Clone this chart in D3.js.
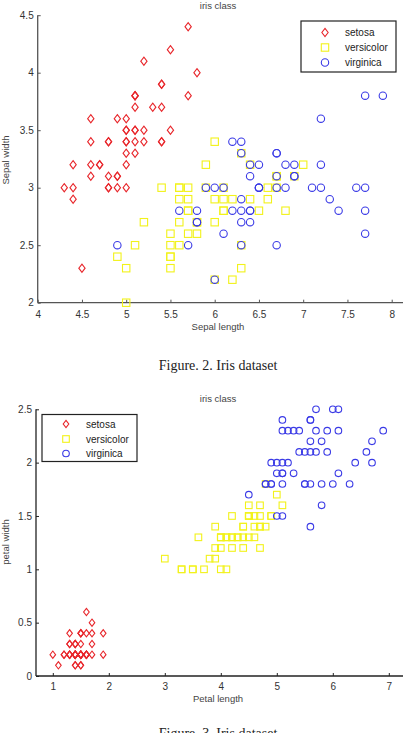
<!DOCTYPE html>
<html><head><meta charset="utf-8">
<script src="https://cdn.jsdelivr.net/npm/d3@7"></script>
<style>
html,body{margin:0;padding:0;background:#fff;}
svg{display:block;}
</style></head>
<body>
<svg id="c" width="403" height="733"></svg>
<script>
// ---- data (Iris dataset) ----
const classes = ["setosa", "versicolor", "virginica"];
const setosaSepalLength = [5.1,4.9,4.7,4.6,5.0,5.4,4.6,5.0,4.4,4.9,5.4,4.8,4.8,4.3,5.8,5.7,5.4,5.1,5.7,5.1,5.4,5.1,4.6,5.1,4.8,5.0,5.0,5.2,5.2,4.7,4.8,5.4,5.2,5.5,4.9,5.0,5.5,4.9,4.4,5.1,5.0,4.5,4.4,5.0,5.1,4.8,5.1,4.6,5.3,5.0];
const setosaSepalWidth  = [3.5,3.0,3.2,3.1,3.6,3.9,3.4,3.4,2.9,3.1,3.7,3.4,3.0,3.0,4.0,4.4,3.9,3.5,3.8,3.8,3.4,3.7,3.6,3.3,3.4,3.0,3.4,3.5,3.4,3.2,3.1,3.4,4.1,4.2,3.1,3.2,3.5,3.6,3.0,3.4,3.5,2.3,3.2,3.5,3.8,3.0,3.8,3.2,3.7,3.3];
const setosaPetalLength = [1.4,1.4,1.3,1.5,1.4,1.7,1.4,1.5,1.4,1.5,1.5,1.6,1.4,1.1,1.2,1.5,1.3,1.4,1.7,1.5,1.7,1.5,1.0,1.7,1.9,1.6,1.6,1.5,1.4,1.6,1.6,1.5,1.5,1.4,1.5,1.2,1.3,1.4,1.3,1.5,1.3,1.3,1.3,1.6,1.9,1.4,1.6,1.4,1.5,1.4];
const setosaPetalWidth  = [0.2,0.2,0.2,0.2,0.2,0.4,0.3,0.2,0.2,0.1,0.2,0.2,0.1,0.1,0.2,0.4,0.4,0.3,0.3,0.3,0.2,0.4,0.2,0.5,0.2,0.2,0.4,0.2,0.2,0.2,0.2,0.4,0.1,0.2,0.2,0.2,0.2,0.1,0.2,0.2,0.3,0.3,0.2,0.6,0.4,0.3,0.2,0.2,0.2,0.2];
const versicolorSepalLength = [7.0,6.4,6.9,5.5,6.5,5.7,6.3,4.9,6.6,5.2,5.0,5.9,6.0,6.1,5.6,6.7,5.6,5.8,6.2,5.6,5.9,6.1,6.3,6.1,6.4,6.6,6.8,6.7,6.0,5.7,5.5,5.5,5.8,6.0,5.4,6.0,6.7,6.3,5.6,5.5,5.5,6.1,5.8,5.0,5.6,5.7,5.7,6.2,5.1,5.7];
const versicolorSepalWidth  = [3.2,3.2,3.1,2.3,2.8,2.8,3.3,2.4,2.9,2.7,2.0,3.0,2.2,2.9,2.9,3.1,3.0,2.7,2.2,2.5,3.2,2.8,2.5,2.8,2.9,3.0,2.8,3.0,2.9,2.6,2.4,2.4,2.7,2.7,3.0,3.4,3.1,2.3,3.0,2.5,2.6,3.0,2.6,2.3,2.7,3.0,2.9,2.9,2.5,2.8];
const versicolorPetalLength = [4.7,4.5,4.9,4.0,4.6,4.5,4.7,3.3,4.6,3.9,3.5,4.2,4.0,4.7,3.6,4.4,4.5,4.1,4.5,3.9,4.8,4.0,4.9,4.7,4.3,4.4,4.8,5.0,4.5,3.5,3.8,3.7,3.9,5.1,4.5,4.5,4.7,4.4,4.1,4.0,4.4,4.6,4.0,3.3,4.2,4.2,4.2,4.3,3.0,4.1];
const versicolorPetalWidth  = [1.4,1.5,1.5,1.3,1.5,1.3,1.6,1.0,1.3,1.4,1.0,1.5,1.0,1.4,1.3,1.4,1.5,1.0,1.5,1.1,1.8,1.3,1.5,1.2,1.3,1.4,1.4,1.7,1.5,1.0,1.1,1.0,1.2,1.6,1.5,1.6,1.5,1.3,1.3,1.3,1.2,1.4,1.2,1.0,1.3,1.2,1.3,1.3,1.1,1.3];
const virginicaSepalLength = [6.3,5.8,7.1,6.3,6.5,7.6,4.9,7.3,6.7,7.2,6.5,6.4,6.8,5.7,5.8,6.4,6.5,7.7,7.7,6.0,6.9,5.6,7.7,6.3,6.7,7.2,6.2,6.1,6.4,7.2,7.4,7.9,6.4,6.3,6.1,7.7,6.3,6.4,6.0,6.9,6.7,6.9,5.8,6.8,6.7,6.7,6.3,6.5,6.2,5.9];
const virginicaSepalWidth  = [3.3,2.7,3.0,2.9,3.0,3.0,2.5,2.9,2.5,3.6,3.2,2.7,3.0,2.5,2.8,3.2,3.0,3.8,2.6,2.2,3.2,2.8,2.8,2.7,3.3,3.2,2.8,3.0,2.8,3.0,2.8,3.8,2.8,2.8,2.6,3.0,3.4,3.1,3.0,3.1,3.1,3.1,2.7,3.2,3.3,3.0,2.5,3.0,3.4,3.0];
const virginicaPetalLength = [6.0,5.1,5.9,5.6,5.8,6.6,4.5,6.3,5.8,6.1,5.1,5.3,5.5,5.0,5.1,5.3,5.5,6.7,6.9,5.0,5.7,4.9,6.7,4.9,5.7,6.0,4.8,4.9,5.6,5.8,6.1,6.4,5.6,5.1,5.6,6.1,5.6,5.5,4.8,5.4,5.6,5.1,5.1,5.9,5.7,5.2,5.0,5.2,5.4,5.1];
const virginicaPetalWidth  = [2.5,1.9,2.1,1.8,2.2,2.1,1.7,1.8,1.8,2.5,2.0,1.9,2.1,2.0,2.4,2.3,1.8,2.2,2.3,1.5,2.3,2.0,2.0,1.8,2.1,1.8,1.8,1.8,2.1,1.6,1.9,2.0,2.2,1.5,1.4,2.3,2.4,1.8,1.8,2.1,2.4,2.3,1.9,2.3,2.5,2.3,1.9,2.0,2.3,1.8];
const sepalXTicks = [4,4.5,5,5.5,6,6.5,7,7.5,8];
const sepalYTicks = [2,2.5,3,3.5,4,4.5];
const petalXTicks = [1,2,3,4,5,6,7];
const petalYTicks = [0,0.5,1,1.5,2,2.5];

const colors = {setosa:"#e8262b", versicolor:"#f2f21a", virginica:"#3a3ae6"};
const svg = d3.select("#c");

function marker(g, cls, x, y, s) {
  if (cls === "setosa") {
    g.append("path").attr("d", `M${x},${y-s*1.1}L${x+s*0.85},${y}L${x},${y+s*1.1}L${x-s*0.85},${y}Z`)
      .attr("fill","none").attr("stroke",colors[cls]).attr("stroke-width",1.1);
  } else if (cls === "versicolor") {
    g.append("rect").attr("x",x-s).attr("y",y-s).attr("width",2*s).attr("height",2*s)
      .attr("fill","none").attr("stroke",colors[cls]).attr("stroke-width",1.1);
  } else {
    g.append("circle").attr("cx",x).attr("cy",y).attr("r",s)
      .attr("fill","none").attr("stroke",colors[cls]).attr("stroke-width",1.1);
  }
}

function panel(cfg) {
  const g = svg.append("g");
  const x = d3.scaleLinear().domain(cfg.xDomain).range(cfg.xRange);
  const y = d3.scaleLinear().domain(cfg.yDomain).range(cfg.yRange);
  const ax = cfg.axisColor;
  g.append("line").attr("x1", cfg.axisX).attr("x2", cfg.axisRight)
    .attr("y1", y(cfg.yDomain[0])).attr("y2", y(cfg.yDomain[0]))
    .attr("stroke", ax).attr("stroke-width", 1.3);
  g.append("line").attr("x1", cfg.axisX).attr("x2", cfg.axisX)
    .attr("y1", y(cfg.yDomain[1])).attr("y2", y(cfg.yDomain[0]))
    .attr("stroke", ax).attr("stroke-width", 1.3);
  const xa = g.append("g").attr("transform", `translate(0,${y(cfg.yDomain[0])})`)
    .call(d3.axisBottom(x).tickValues(cfg.xTicks).tickSize(0).tickPadding(0).tickFormat(d3.format("")));
  xa.select(".domain").remove();
  xa.selectAll(".tick").append("line").attr("y1",0).attr("y2",-3).attr("stroke",ax);
  xa.selectAll(".tick text").attr("y", cfg.xLabelDy).attr("dy", null)
    .attr("font-family","Liberation Sans, Arial, sans-serif").attr("font-size",10).attr("fill","#333");
  const ya = g.append("g").attr("transform", `translate(${cfg.axisX},0)`)
    .call(d3.axisLeft(y).tickValues(cfg.yTicks).tickSize(0).tickPadding(4).tickFormat(d3.format("")));
  ya.select(".domain").remove();
  ya.selectAll(".tick").append("line").attr("x1",0).attr("x2",3).attr("stroke",ax);
  ya.selectAll(".tick text").attr("font-family","Liberation Sans, Arial, sans-serif")
    .attr("font-size",10).attr("fill","#333");
  const pts = g.append("g");
  cfg.series.forEach(s => {
    s.xs.forEach((v, i) => marker(pts, s.cls, x(v), y(s.ys[i]), cfg.markerSize));
  });
  g.append("text").attr("x", 218).attr("y", cfg.titleY).attr("text-anchor","middle")
    .attr("font-family","Liberation Sans, Arial, sans-serif").attr("font-size",9.5).attr("fill","#444")
    .text("iris class");
  g.append("text").attr("x", 218).attr("y", cfg.xTitleY).attr("text-anchor","middle")
    .attr("font-family","Liberation Sans, Arial, sans-serif").attr("font-size",9.5).attr("fill","#444")
    .text(cfg.xTitle);
  g.append("text").attr("transform", `translate(${cfg.yTitleX},${cfg.yTitleCY}) rotate(-90)`)
    .attr("text-anchor","middle")
    .attr("font-family","Liberation Sans, Arial, sans-serif").attr("font-size",9.5).attr("fill","#444")
    .text(cfg.yTitle);
  const L = cfg.legend;
  g.append("rect").attr("x",L.x).attr("y",L.y).attr("width",L.w).attr("height",L.h)
    .attr("fill","#fff").attr("stroke","#222").attr("stroke-width",1.2);
  classes.forEach((c, i) => {
    const cy = L.rowY[i];
    marker(g, c, L.markerX, cy, cfg.markerSize);
    g.append("text").attr("x", L.textX).attr("y", cy).attr("dy","0.35em")
      .attr("font-family","Liberation Sans, Arial, sans-serif").attr("font-size",10).attr("fill","#222")
      .text(c);
  });
  g.append("text").attr("x", cfg.captionX).attr("y", cfg.captionY).attr("text-anchor","middle")
    .attr("font-family","Liberation Serif, Times New Roman, serif").attr("font-size",14).attr("fill","#222")
    .text(cfg.caption);
}

panel({
  xDomain:[4,8], xRange:[37.7,391.7], yDomain:[2,4.5], yRange:[302.7,15.2],
  axisX:37.7, axisRight:403, axisColor:"#555",
  xTicks: sepalXTicks, yTicks: sepalYTicks, xLabelDy: 15,
  markerSize: 3.7,
  series:[
    {cls:"setosa", xs:setosaSepalLength, ys:setosaSepalWidth},
    {cls:"versicolor", xs:versicolorSepalLength, ys:versicolorSepalWidth},
    {cls:"virginica", xs:virginicaSepalLength, ys:virginicaSepalWidth}
  ],
  titleY: 8.5, xTitle:"Sepal length", xTitleY: 330, yTitle:"Sepal width", yTitleX: 9, yTitleCY: 160,
  legend:{x:301, y:21, w:95, h:51, markerX:325, textX:345, rowY:[32.5,47.5,62.5]},
  caption:"Figure. 2. Iris dataset", captionX: 218, captionY: 370
});

panel({
  xDomain:[0.7,7.2], xRange:[36,400], yDomain:[0,2.5], yRange:[676,409.3],
  axisX:36, axisRight:403, axisColor:"#222",
  xTicks: petalXTicks, yTicks: petalYTicks, xLabelDy: 13.5,
  markerSize: 3.3,
  series:[
    {cls:"setosa", xs:setosaPetalLength, ys:setosaPetalWidth},
    {cls:"versicolor", xs:versicolorPetalLength, ys:versicolorPetalWidth},
    {cls:"virginica", xs:virginicaPetalLength, ys:virginicaPetalWidth}
  ],
  titleY: 401.5, xTitle:"Petal length", xTitleY: 702, yTitle:"petal width", yTitleX: 9, yTitleCY: 542,
  legend:{x:42, y:414.5, w:95, h:47, markerX:66, textX:86, rowY:[424,439,453.5]},
  caption:"Figure. 3. Iris dataset", captionX: 218, captionY: 738
});
</script>
</body></html>
